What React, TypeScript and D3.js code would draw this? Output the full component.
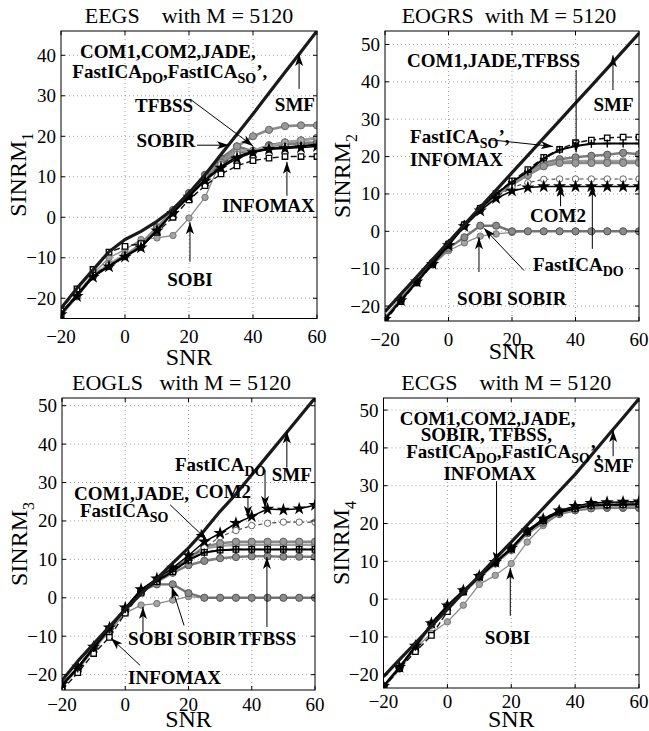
import React from 'react';
import * as d3 from 'd3';

// SNR grid shared by every curve
const snr = [-20, -15, -10, -5, 0, 5, 10, 15, 20, 25, 30, 35, 40, 45, 50, 55, 60];
const xTicks = [-20, 0, 20, 40, 60];
const yTicks1 = [-20, -10, 0, 10, 20, 30, 40];
const yTicks = [-20, -10, 0, 10, 20, 30, 40, 50];

// EEGS
const smf1 = [-22.5, -17.5, -13, -8.5, -5.5, -3.5, -1, 2, 6, 10.5, 15.5, 20.5, 25.5, 30.7, 35.8, 40.9, 46];
const com1_1 = [-24, -19.5, -14.5, -12, -9.5, -7.2, -2.5, 1.6, 5.8, 10.3, 13.5, 17.5, 20, 21.6, 22.5, 22.7, 22.7];
const com2_1 = [-23.5, -19, -14.2, -11.8, -9.5, -7, -3, 1.2, 5.5, 9.5, 13, 15.5, 16, 16.8, 17.5, 17.5, 17.8];
const jade1 = [-24, -19, -14.4, -11.5, -9.3, -7, -2.8, 1.4, 5.6, 10, 13.8, 16.5, 16.5, 17.5, 18.5, 19, 19.7];
const fdo1 = [-24, -19.5, -14.8, -12.2, -9.8, -7.5, -3.3, 1, 5, 9, 12.2, 14.5, 16, 16.8, 17, 17.2, 17.5];
const fso1 = [-23.8, -19.2, -14.5, -12, -9.6, -7.3, -3.2, 1.2, 5.3, 9.2, 12.5, 15, 16.2, 17, 17.2, 17.6, 18];
const info1 = [-23, -17.7, -12.9, -8.6, -7.2, -6.5, -3.7, 0, 4.3, 7.8, 10.7, 12.7, 14, 14.6, 15, 15, 15];
const sobi1 = [-24.5, -19, -14, -10, -8, -5.5, -5.1, -4.5, -0.2, 4.9, 14, 17.5, 16.3, 17.3, 18.5, 19, 19.5];
const sobir1 = [-24.2, -19.5, -14.5, -12, -9.5, -6.5, -2.5, 1.8, 6, 10.5, 14.5, 17.5, 16.3, 17.8, 18.5, 19, 19.5];
const tfbss1 = [-24, -19.3, -14.6, -11.9, -9.4, -7.1, -3, 1.4, 5.6, 9.6, 13.2, 16, 16.3, 17.6, 18, 18.3, 18.5];

// EOGRS
const smf2 = [-21.5, -16.8, -12.2, -7.5, -2.9, 1.8, 6.4, 11, 15.7, 20.3, 25, 29.6, 34.3, 38.9, 43.6, 48.3, 53];
const com1_2 = [-23.5, -18.5, -13.5, -8.5, -3.5, 1.6, 5.8, 9.5, 12.5, 15, 17.4, 18.3, 18.3, 18.3, 18.3, 18.3, 18.3];
const com2_2 = [-23.3, -18.3, -13.3, -8.6, -3.6, 1.5, 5.7, 9.2, 11.8, 13, 13.9, 14, 14, 14, 14, 14, 14];
const jade2 = [-23.4, -18.4, -13.4, -8.4, -3.4, 1.7, 5.9, 9.6, 12.7, 15.3, 17.8, 18.6, 18.8, 18.8, 18.8, 18.8, 18.8];
const fdo2 = [-23.5, -18.5, -13.5, -8.8, -3.8, 1.3, 5.5, 8.8, 10.8, 11.7, 12, 12, 12, 12, 12, 12, 12];
const fso2 = [-23.5, -18.5, -13.5, -8.5, -3.4, 1.8, 6.2, 10, 13.2, 16, 19.5, 21.8, 22.8, 23.4, 23.5, 23.5, 23.5];
const info2 = [-24, -18.8, -13.8, -8.8, -3.6, 1.7, 6.1, 10.1, 13.5, 16.5, 19.8, 21.9, 23.7, 24.4, 25, 25.2, 25.2];
const sobi2 = [-23.5, -18.5, -13.8, -9, -5.2, -3.1, -1.3, -0.7, -0.3, 0, 0, 0, 0, 0, 0, 0, 0];
const sobir2 = [-23.3, -18.2, -13.5, -8.8, -4.5, -1.6, 1.5, 1.5, 0, 0, 0, 0, 0, 0, 0, 0, 0];
const tfbss2 = [-23.2, -18.2, -13.2, -8.3, -3.3, 1.8, 6, 9.8, 13, 15.8, 18.3, 19.3, 19.8, 20.2, 20.5, 21, 20.6];

// EOGLS
const smf3 = [-21.5, -16.5, -12, -7.5, -3, 1, 5, 9, 13, 17.5, 22.5, 27, 32, 37, 42, 47, 52];
const com1_3 = [-22.7, -18.3, -13, -8, -2.9, 1.8, 4.6, 7.2, 10.3, 13.3, 14.2, 14.6, 14.6, 14.6, 14.6, 14.6, 14.6];
const com2_3 = [-22.6, -18.2, -12.9, -7.9, -2.8, 2, 4.8, 7.5, 10.2, 13, 15.9, 17.5, 18.8, 19.4, 19.7, 19.7, 19.7];
const jade3 = [-22.7, -18.3, -13, -8, -2.9, 1.8, 4.5, 7, 10, 12.8, 13.5, 13.8, 13.8, 13.8, 13.8, 13.8, 13.8];
const fdo3 = [-22.5, -18, -12.8, -7.8, -2.6, 2.2, 5, 7.8, 11, 14.6, 16.8, 19.4, 21.2, 23.1, 22.9, 23.2, 24.1];
const fso3 = [-22.8, -18.4, -13.1, -8.1, -3, 1.7, 4.4, 6.9, 9.8, 11.8, 12.4, 12.6, 12.6, 12.6, 12.6, 12.6, 12.6];
const info3 = [-24, -19.5, -14.5, -10.3, -4, 1.2, 4.2, 6.8, 9.8, 11.8, 12.4, 12.6, 12.6, 12.6, 12.6, 12.6, 12.6];
const sobi3 = [-22.8, -18.5, -13.5, -8.8, -4, -1.9, -1.5, -0.6, 0.3, 0, 0, 0, 0, 0, 0, 0, 0];
const sobir3 = [-22.7, -18.3, -13, -8, -3, 1.8, 3.5, 3.5, 1.2, 0, 0, 0, 0, 0, 0, 0, 0];
const tfbss3 = [-22.8, -18.5, -13.2, -8.2, -3.1, 1.5, 4.2, 6.5, 8.5, 9.6, 10.3, 10.6, 10.8, 10.8, 10.7, 10.7, 10.7];

// ECGS
const smf4 = [-20.5, -16, -11.6, -7.1, -2.7, 1.8, 6.2, 10.7, 15.1, 19.6, 24, 28.5, 33, 38, 43, 48, 53];
const com1_4 = [-23, -18, -12.5, -6.5, -1.8, 2.2, 6, 9.7, 13.4, 18, 21, 23.2, 24.1, 25, 25, 25, 25];
const com2_4 = [-23, -17.8, -12.3, -6.3, -1.6, 2.4, 6.2, 9.9, 13.6, 18.2, 21.3, 23.5, 24.5, 25.3, 25.4, 25.5, 25.5];
const jade4 = [-23.2, -18.2, -12.7, -6.7, -2, 2, 5.8, 9.5, 13.2, 17.6, 20.6, 22.8, 23.8, 24.5, 24.6, 24.6, 24.6];
const fdo4 = [-23, -18, -12.4, -6.4, -1.7, 2.3, 6.1, 9.8, 13.5, 18.1, 21.2, 23.4, 24.6, 25.4, 25.6, 25.7, 25.8];
const fso4 = [-23.1, -18.1, -12.6, -6.6, -1.9, 2.1, 5.9, 9.6, 13.3, 17.8, 20.8, 23, 24, 24.8, 24.9, 25, 25.1];
const info4 = [-23.5, -18.4, -13.9, -9.6, -3.3, 1.9, 5.9, 9.6, 13.3, 17.8, 20.8, 23, 24, 24.8, 24.9, 25, 25.1];
const sobi4 = [-23, -18.5, -13, -9, -6, -1.6, 3.9, 6.3, 9.4, 15.1, 19.5, 22.5, 23.5, 24, 24, 24, 24];
const sobir4 = [-23.2, -18.2, -12.7, -6.6, -2, 2.1, 5.9, 9.6, 13.3, 17.8, 20.8, 23, 23.9, 24.4, 24.5, 24.5, 24.5];
const tfbss4 = [-23.3, -18.3, -12.8, -6.8, -2.1, 1.9, 5.7, 9.4, 13, 17.4, 20.2, 22.5, 23.5, 24, 24.2, 24.2, 24.2];

const FONT = "'Liberation Serif', 'Times New Roman', serif";

type Marker = 'none' | 'circle' | 'open' | 'star' | 'plus' | 'square';
type Style = { stroke: string; width: number; dash?: string; marker: Marker; fill?: string; edge?: string; r?: number };

const styles: Record<string, Style> = {
  SOBI: { stroke: '#8c8c8c', width: 1.3, marker: 'circle', fill: '#a4a4a4', edge: '#777', r: 3.2 },
  SOBIR: { stroke: '#727272', width: 2.4, marker: 'circle', fill: '#8a8a8a', edge: '#555', r: 3.6 },
  TFBSS: { stroke: '#7c7c7c', width: 2.6, marker: 'circle', fill: '#8c8c8c', edge: '#555', r: 3.6 },
  JADE: { stroke: '#a0a0a0', width: 2.4, marker: 'circle', fill: '#ababab', edge: '#777', r: 3.4 },
  COM1: { stroke: '#8a8a8a', width: 2.6, marker: 'circle', fill: '#999', edge: '#666', r: 3.6 },
  COM2: { stroke: '#444', width: 1.1, dash: '4,3', marker: 'open', fill: '#fff', edge: '#666', r: 3.2 },
  INFOMAX: { stroke: '#111', width: 1.4, dash: '6,3', marker: 'square' },
  FastICA_SO: { stroke: '#000', width: 2, marker: 'plus' },
  FastICA_DO: { stroke: '#000', width: 1.5, marker: 'star' },
  SMF: { stroke: '#1a1a1a', width: 3.2, marker: 'none' },
};

type Series = [string, number[]];
type Note = { s: string; x: number; y: number; anchor?: 'start' | 'middle' };
type Arrow = [number, number, number, number];

type PanelCfg = {
  id: string; title: string; titleDx: number; sub: string;
  left: number; right: number; top: number; bottom: number;
  yDomain: [number, number]; yTicks: number[]; tickBase: number; xlabBase: number;
  series: Series[]; notes: Note[]; arrows: Arrow[];
};

const panels: PanelCfg[] = [
  {
    id: 'p1', title: 'EEGS    with M = 5120', titleDx: 0, sub: '1',
    left: 61, right: 317, top: 31, bottom: 318.5, yDomain: [-25, 46], yTicks: yTicks1, tickBase: 343, xlabBase: 365,
    series: [['SOBI', sobi1], ['SOBIR', sobir1], ['TFBSS', tfbss1], ['JADE', jade1], ['COM1', com1_1], ['COM2', com2_1],
      ['INFOMAX', info1], ['FastICA_SO', fso1], ['FastICA_DO', fdo1], ['SMF', smf1]],
    notes: [
      { s: 'COM1,COM2,JADE,', x: 13.4, y: 39.3, anchor: 'middle' },
      { s: 'FastICA_{DO},FastICA_{SO}’,', x: 14, y: 34.4, anchor: 'middle' },
      { s: 'TFBSS', x: 12.2, y: 26.1, anchor: 'middle' },
      { s: 'SOBIR', x: 12.8, y: 17.4, anchor: 'middle' },
      { s: 'SMF', x: 53.1, y: 26.2, anchor: 'middle' },
      { s: 'INFOMAX', x: 44.8, y: 1.3, anchor: 'middle' },
      { s: 'SOBI', x: 20.3, y: -17, anchor: 'middle' },
    ],
    arrows: [[20.3, 29.2, 40, 17.6], [22.5, 17.8, 32.5, 17.8], [54.4, 31.7, 54.4, 40.3], [50.6, 5.3, 50.6, 13.7], [20.3, -11, 20.3, -1.2]],
  },
  {
    id: 'p2', title: 'EOGRS  with M = 5120', titleDx: -3, sub: '2',
    left: 385, right: 639, top: 31, bottom: 321, yDomain: [-24, 53.6], yTicks, tickBase: 346, xlabBase: 359,
    series: [['SOBI', sobi2], ['SOBIR', sobir2], ['TFBSS', tfbss2], ['JADE', jade2], ['COM1', com1_2], ['COM2', com2_2],
      ['INFOMAX', info2], ['FastICA_SO', fso2], ['FastICA_DO', fdo2], ['SMF', smf2]],
    notes: [
      { s: 'COM1,JADE,TFBSS', x: 14.2, y: 44, anchor: 'middle' },
      { s: 'FastICA_{SO}’,', x: -12.1, y: 23.7 },
      { s: 'INFOMAX', x: -12.1, y: 17.4 },
      { s: 'SMF', x: 52, y: 32.1, anchor: 'middle' },
      { s: 'COM2', x: 34.5, y: 2.4, anchor: 'middle' },
      { s: 'FastICA_{DO}', x: 26.6, y: -10.5 },
      { s: 'SOBI SOBIR', x: 2.7, y: -19.8 },
    ],
    arrows: [[40.2, 43.2, 40.2, 21.1], [13.1, 24.5, 32.9, 22.7], [51.8, 37.8, 51.8, 47.1], [35.3, 6.7, 35.3, 12.4],
      [45.3, -4.7, 45.3, 12.3], [9.6, -10.9, 9.6, -1.6], [23.8, -10.5, 11.2, 0.8]],
  },
  {
    id: 'p3', title: 'EOGLS   with M = 5120', titleDx: -7, sub: '3',
    left: 62, right: 315, top: 398, bottom: 690, yDomain: [-24, 52], yTicks, tickBase: 711, xlabBase: 727,
    series: [['SOBI', sobi3], ['SOBIR', sobir3], ['TFBSS', tfbss3], ['JADE', jade3], ['COM1', com1_3], ['COM2', com2_3],
      ['INFOMAX', info3], ['FastICA_SO', fso3], ['FastICA_DO', fdo3], ['SMF', smf3]],
    notes: [
      { s: 'FastICA_{DO}', x: 15.7, y: 32.9 },
      { s: 'COM2', x: 22.1, y: 26 },
      { s: 'SMF', x: 46.3, y: 30.3 },
      { s: 'COM1,JADE,', x: -16.2, y: 25.5 },
      { s: 'FastICA_{SO}', x: -14.3, y: 21.1 },
      { s: 'SOBI', x: 0.9, y: -12.3 },
      { s: 'SOBIR', x: 16.4, y: -12.3 },
      { s: 'TFBSS', x: 35.7, y: -12.3 },
      { s: 'INFOMAX', x: 0.9, y: -22.4 },
    ],
    arrows: [[44.2, 33.3, 44.2, 23.4], [38.8, 26, 38.8, 20.8], [51.1, 33.9, 51.1, 43.3], [14.2, 24.2, 25.8, 15.1],
      [5.6, -9, 5.6, -2.4], [18.6, -7.2, 14.7, 2.9], [44.8, -7.6, 44.8, 10.6], [4.7, -17.6, -4.5, -10.5]],
  },
  {
    id: 'p4', title: 'ECGS    with M = 5120', titleDx: -5, sub: '4',
    left: 383.5, right: 639, top: 398, bottom: 688, yDomain: [-23.5, 53.2], yTicks, tickBase: 708, xlabBase: 727,
    series: [['SOBI', sobi4], ['SOBIR', sobir4], ['TFBSS', tfbss4], ['JADE', jade4], ['COM1', com1_4], ['COM2', com2_4],
      ['INFOMAX', info4], ['FastICA_SO', fso4], ['FastICA_DO', fdo4], ['SMF', smf4]],
    notes: [
      { s: 'COM1,COM2,JADE,', x: 12.6, y: 46.1, anchor: 'middle' },
      { s: 'SOBIR, TFBSS,', x: 12.2, y: 41.8, anchor: 'middle' },
      { s: 'FastICA_{DO},FastICA_{SO}’,', x: 17.6, y: 37.4, anchor: 'middle' },
      { s: 'INFOMAX', x: 13.3, y: 31.6, anchor: 'middle' },
      { s: 'SMF', x: 52, y: 33.6, anchor: 'middle' },
      { s: 'SOBI', x: 18.8, y: -11.8, anchor: 'middle' },
    ],
    arrows: [[15.4, 31.2, 15.4, 9.4], [51.9, 37.8, 51.9, 44.7], [19.7, -4.4, 19.7, 8.3]],
  },
];

// "text_{sub}" -> tspans with lowered subscripts
const rich = (s: string, subSize: number, shift: number) => {
  const parts = s.split(/_\{([^}]*)\}/);
  const out: React.ReactNode[] = [];
  parts.forEach((p, i) => {
    if (i % 2 === 1) out.push(<tspan key={i} dy={shift} fontSize={subSize}>{p}</tspan>);
    else if (p !== '') out.push(<tspan key={i} dy={i === 0 ? 0 : -shift}>{p}</tspan>);
  });
  return out;
};

const starPath = d3.symbol(d3.symbolStar, 55)() as string;
const squarePath = d3.symbol(d3.symbolSquare, 30)() as string;

const MarkerShape = ({ st, cx, cy }: { st: Style; cx: number; cy: number }) => {
  const t = `translate(${cx},${cy})`;
  switch (st.marker) {
    case 'circle':
    case 'open':
      return <circle cx={cx} cy={cy} r={st.r} fill={st.fill} stroke={st.edge} strokeWidth={1} />;
    case 'star':
      return <path d={starPath} transform={t} fill="#000" />;
    case 'square':
      return <path d={squarePath} transform={t} fill="#fff" stroke="#000" strokeWidth={1.3} />;
    case 'plus':
      return <path d="M-4,0H4M0,-4V4" transform={t} stroke="#000" strokeWidth={1.4} />;
    default:
      return null;
  }
};

const Panel = ({ cfg }: { cfg: PanelCfg }) => {
  const x = d3.scaleLinear().domain([-20, 60]).range([cfg.left, cfg.right]);
  const y = d3.scaleLinear().domain(cfg.yDomain).range([cfg.bottom, cfg.top]);
  const line = d3.line<number>().x((_, i) => x(snr[i])).y(d => y(d));
  const cx = (cfg.left + cfg.right) / 2;
  const cy = (cfg.top + cfg.bottom) / 2;
  const w = cfg.right - cfg.left;
  const h = cfg.bottom - cfg.top;

  return (
    <g>
      <clipPath id={`clip-${cfg.id}`}>
        <rect x={cfg.left} y={cfg.top} width={w} height={h} />
      </clipPath>

      {/* dotted grid */}
      <g stroke="#8a8a8a" strokeWidth={0.8} strokeDasharray="1,3">
        {xTicks.slice(1, -1).map(t => <line key={`gx${t}`} x1={x(t)} x2={x(t)} y1={cfg.top} y2={cfg.bottom} />)}
        {cfg.yTicks.map(t => <line key={`gy${t}`} x1={cfg.left} x2={cfg.right} y1={y(t)} y2={y(t)} />)}
      </g>

      <g clipPath={`url(#clip-${cfg.id})`}>
        {cfg.series.map(([name, vals]) => {
          const st = styles[name];
          return (
            <g key={name}>
              <path d={line(vals) as string} fill="none" stroke={st.stroke} strokeWidth={st.width}
                strokeDasharray={st.dash} strokeLinejoin="round" />
              {st.marker !== 'none' && vals.map((v, i) => <MarkerShape key={i} st={st} cx={x(snr[i])} cy={y(v)} />)}
            </g>
          );
        })}
      </g>

      {/* box and inward ticks */}
      <rect x={cfg.left} y={cfg.top} width={w} height={h} fill="none" stroke="#000" strokeWidth={1} />
      <g stroke="#000" strokeWidth={1}>
        {xTicks.map(t => (
          <g key={`tx${t}`}>
            <line x1={x(t)} x2={x(t)} y1={cfg.bottom} y2={cfg.bottom - 4} />
            <line x1={x(t)} x2={x(t)} y1={cfg.top} y2={cfg.top + 4} />
          </g>
        ))}
        {cfg.yTicks.map(t => (
          <g key={`ty${t}`}>
            <line x1={cfg.left} x2={cfg.left + 4} y1={y(t)} y2={y(t)} />
            <line x1={cfg.right} x2={cfg.right - 4} y1={y(t)} y2={y(t)} />
          </g>
        ))}
      </g>

      <g fontFamily={FONT} fontSize={19} fill="#000">
        {xTicks.map(t => (
          <text key={`lx${t}`} x={x(t)} y={cfg.tickBase} textAnchor="middle">{d3.format('d')(t)}</text>
        ))}
        {cfg.yTicks.map(t => (
          <text key={`ly${t}`} x={cfg.left - 5} y={y(t) + 6.5} textAnchor="end">{d3.format('d')(t)}</text>
        ))}
      </g>

      {/* title and axis labels */}
      <text x={cx + cfg.titleDx} y={cfg.top - 8} textAnchor="middle" fontFamily={FONT} fontSize={22}
        xmlSpace="preserve" style={{ whiteSpace: 'pre' }}>{cfg.title}</text>
      <text x={cx} y={cfg.xlabBase} textAnchor="middle" fontFamily={FONT} fontSize={24}>SNR</text>
      <text transform={`translate(${cfg.left - 35},${cy}) rotate(-90)`} textAnchor="middle" fontFamily={FONT} fontSize={24}>
        {rich(`SINRM_{${cfg.sub}}`, 16, 7)}
      </text>

      {/* annotations */}
      <g stroke="#000" strokeWidth={1}>
        {cfg.arrows.map((a, i) => (
          <line key={i} x1={x(a[0])} y1={y(a[1])} x2={x(a[2])} y2={y(a[3])} markerEnd="url(#ahead)" />
        ))}
      </g>
      <g fontFamily={FONT} fontSize={19} fontWeight="bold" fill="#000">
        {cfg.notes.map((n, i) => (
          <text key={i} x={x(n.x)} y={y(n.y)} textAnchor={n.anchor ?? 'start'}>{rich(n.s, 14, 5)}</text>
        ))}
      </g>
    </g>
  );
};

const App: React.FC = () => (
  <svg width={649} height={731} style={{ position: 'absolute', left: 0, top: 0, background: '#fff' }}>
    <defs>
      <marker id="ahead" viewBox="0 0 12 8" refX={12} refY={4} markerWidth={12} markerHeight={8}
        markerUnits="userSpaceOnUse" orient="auto">
        <path d="M0,0L12,4L0,8L3,4Z" fill="#000" />
      </marker>
    </defs>
    <rect width={649} height={731} fill="#fff" />
    {panels.map(p => <Panel key={p.id} cfg={p} />)}
  </svg>
);

export default App;
